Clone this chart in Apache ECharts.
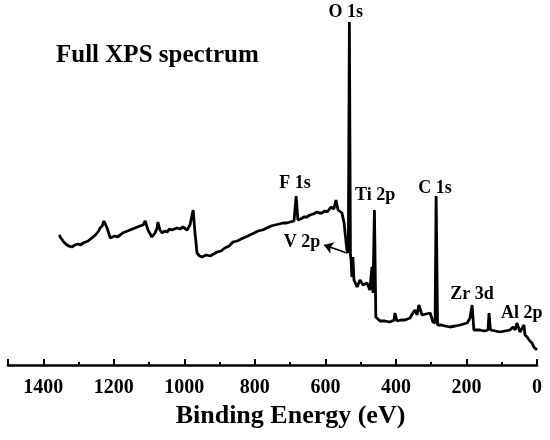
<!DOCTYPE html>
<html>
<head>
<meta charset="utf-8">
<script src="https://cdn.jsdelivr.net/npm/echarts@6/dist/echarts.min.js"></script>
<style>
  html, body { margin: 0; padding: 0; background: #fff; }
  #chart { width: 550px; height: 440px; }
</style>
</head>
<body>
<div id="chart"></div>
<script>
const energy = [
  1355, 1350, 1347, 1342, 1336, 1328, 1319, 1310, 1302, 1295, 1287, 1280, 1273, 1266,
  1259, 1252, 1248, 1243, 1239, 1233, 1228, 1219, 1210, 1204, 1197, 1190, 1182, 1175,
  1168, 1161, 1154, 1147, 1140, 1133, 1126, 1117, 1111, 1103, 1092, 1083, 1077, 1075,
  1069, 1063, 1056, 1049, 1042, 1035, 1028, 1021, 1012, 1004, 992, 984, 975, 970, 964,
  957, 950, 938, 927, 917, 907, 896, 885, 873, 862, 850, 839, 826, 814, 802, 791, 778,
  766, 754, 743, 731, 720, 710, 700, 689, 683, 678, 670, 661, 652, 644, 634, 624, 617,
  610, 602, 595, 584, 576, 570, 564, 553, 547, 542, 539, 535, 532, 529, 527, 525, 522,
  519, 510, 502, 493, 482, 474, 468, 465, 461, 457, 445, 431, 417, 405, 403, 397, 386,
  374, 360, 352, 346, 340, 335, 326, 315, 303, 295, 289, 286, 282, 271, 261, 247, 232,
  218, 198, 190, 184, 179, 162, 150, 139, 136, 132, 118, 105, 91, 77, 68, 62, 57, 48,
  37, 34, 28, 20, 14, 9, 0
];
// intensity (a.u.)
const intensity = [
  130, 127, 125, 123, 121, 119, 118, 120, 121, 120, 122, 123, 124, 126,
  128, 130, 132, 134, 137, 139, 144, 137, 127, 128, 129, 128, 130, 132,
  133, 134, 135, 136, 137, 138, 139, 140, 144, 135, 128, 132, 137, 143,
  135, 132, 134, 133, 136, 135, 136, 137, 136, 138, 135, 140, 155, 133, 112,
  109, 108, 110, 109, 111, 113, 114, 117, 119, 123, 124, 126, 128, 130, 132, 134, 135,
  137, 139, 140, 141, 142, 142, 143, 144, 169, 145, 146, 148, 148, 150, 151, 153, 152,
  152, 154, 153, 158, 156, 165, 155, 152, 142, 125, 115, 112, 343, 110, 105, 88, 108,
  85, 78, 85, 80, 82, 75, 98, 72, 155, 48, 44, 44, 43, 45, 52, 44, 45,
  45, 47, 52, 55, 50, 60, 50, 51, 52, 43, 42, 169, 40, 40, 39, 38, 39,
  40, 42, 47, 60, 35, 35, 34, 35, 52, 35, 34, 33, 34, 35, 38, 35, 42, 33,
  40, 30, 28, 24, 22, 18, 15
];
// peak annotations: name, label centre [energy, intensity]
const peakNames = ['O 1s', 'F 1s', 'Ti 2p', 'C 1s', 'Zr 3d', 'Al 2p', 'V 2p'];
const peakLabelAt = [[542, 353], [686, 182], [459, 170], [289, 177], [184, 71], [43, 52], [666, 123]];
// V 2p arrow: from the trace to the label
const arrowFrom = [539, 112];
const arrowTo = [604, 120];
const xTicks = [0, 200, 400, 600, 800, 1000, 1200, 1400];

const font = '"Liberation Serif", "Times New Roman", serif';
const chart = echarts.init(document.getElementById('chart'));

chart.setOption({
  animation: false,
  title: {
    text: 'Full XPS spectrum',
    left: 51,
    top: 38,
    textStyle: { fontFamily: font, fontSize: 25, fontWeight: 'bold', color: '#000' }
  },
  grid: { left: 8, right: 13, top: 0, bottom: 75 },
  xAxis: {
    type: 'value',
    inverse: true,
    min: 0,
    max: 1500,
    interval: 200,
    name: 'Binding Energy (eV)',
    nameLocation: 'middle',
    nameGap: 38,
    nameTextStyle: {
      fontFamily: font, fontSize: 26, fontWeight: 'bold', color: '#000',
      padding: [0, 0, 0, 36]
    },
    axisLine: { lineStyle: { color: '#000', width: 2.5 } },
    axisTick: { inside: true, length: 6, lineStyle: { color: '#000', width: 2 } },
    minorTick: { show: true, splitNumber: 2, length: 3, lineStyle: { color: '#000', width: 2 } },
    splitLine: { show: false },
    axisLabel: {
      margin: 13,
      fontFamily: font, fontSize: 20, fontWeight: 'bold', color: '#000',
      formatter: v => (xTicks.includes(v) ? String(v) : '')
    }
  },
  yAxis: { type: 'value', min: 0, max: 365, show: false },
  series: [{
    type: 'line',
    data: energy.map((e, i) => [e, intensity[i]]),
    showSymbol: false,
    lineStyle: { color: '#000', width: 2.8 },
    silent: true,
    markPoint: {
      symbol: 'circle',
      symbolSize: 0,
      silent: true,
      label: {
        show: true,
        position: 'inside',
        formatter: '{b}',
        fontFamily: font, fontSize: 18, fontWeight: 'bold', color: '#000'
      },
      data: peakNames.map((n, i) => ({ name: n, coord: peakLabelAt[i] }))
    },
    markLine: {
      silent: true,
      symbol: ['none', 'arrow'],
      symbolSize: 9,
      label: { show: false },
      lineStyle: { color: '#000', width: 1.5, type: 'solid' },
      data: [[{ coord: arrowFrom }, { coord: arrowTo }]]
    }
  }]
});
</script>
</body>
</html>
